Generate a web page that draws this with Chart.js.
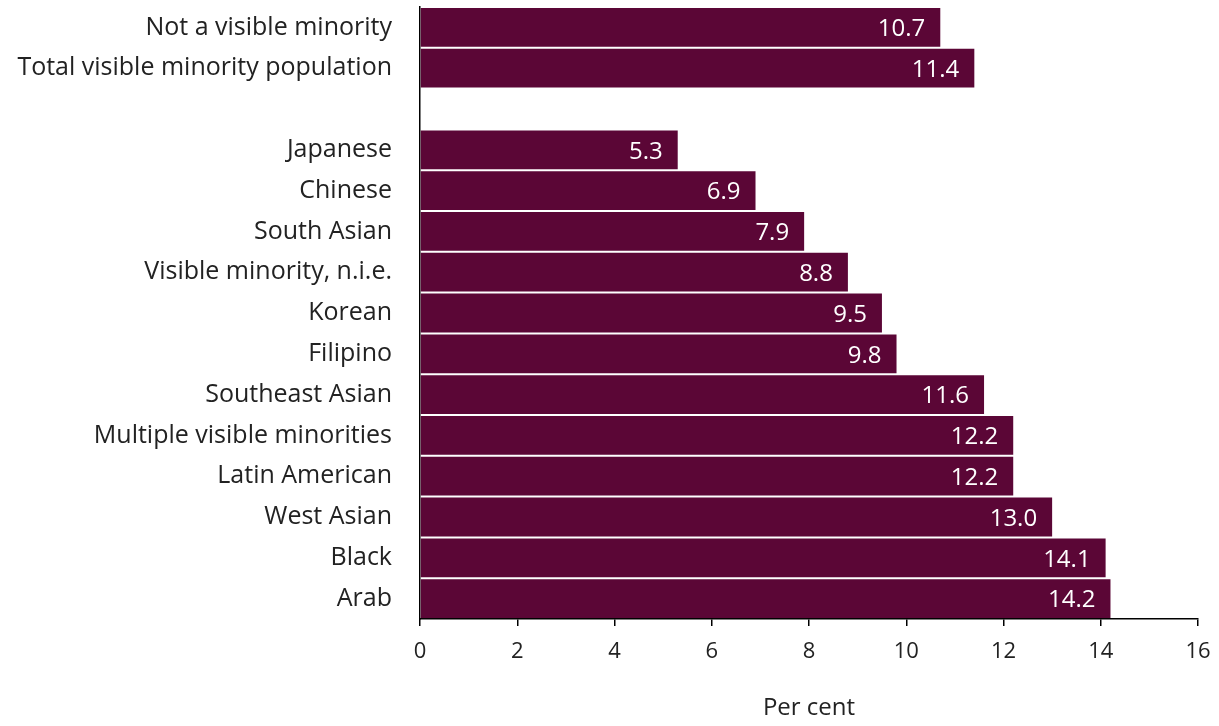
<!DOCTYPE html>
<html>
<head>
<meta charset="utf-8">
<script src="https://cdn.jsdelivr.net/npm/chart.js@4.4.1/dist/chart.umd.min.js"></script>
<style>
  html, body { margin: 0; padding: 0; background: #fff; }
  #wrap { width: 1219px; height: 726px; }
</style>
</head>
<body>
<div id="wrap"><canvas id="c" width="1219" height="726"></canvas></div>
<script>
// Categories (an empty label separates the totals from the groups)
const categories = [
  'Not a visible minority',
  'Total visible minority population',
  '',
  'Japanese',
  'Chinese',
  'South Asian',
  'Visible minority, n.i.e.',
  'Korean',
  'Filipino',
  'Southeast Asian',
  'Multiple visible minorities',
  'Latin American',
  'West Asian',
  'Black',
  'Arab'
];
const values = [10.7, 11.4, null, 5.3, 6.9, 7.9, 8.8, 9.5, 9.8, 11.6, 12.2, 12.2, 13.0, 14.1, 14.2];
const xTicks = [0, 2, 4, 6, 8, 10, 12, 14, 16];

const FONT = '"Open Sans", "Noto Sans", sans-serif';
const BAR = '#5b0636';

// Value labels drawn inside the end of each bar
const valueLabels = {
  id: 'valueLabels',
  afterDatasetsDraw(chart) {
    const ctx = chart.ctx;
    const meta = chart.getDatasetMeta(0);
    ctx.save();
    ctx.fillStyle = '#ffffff';
    ctx.font = '400 24px ' + FONT;
    ctx.textAlign = 'right';
    ctx.textBaseline = 'middle';
    meta.data.forEach((bar, i) => {
      const v = values[i];
      if (v === null) return;
      ctx.fillText(v.toFixed(1), bar.x - 15, bar.y + 2);
    });
    ctx.restore();
  }
};

new Chart(document.getElementById('c'), {
  type: 'bar',
  data: {
    labels: categories,
    datasets: [{
      data: values,
      backgroundColor: BAR,
      borderWidth: 0,
      categoryPercentage: 1.0,
      barPercentage: 0.95
    }]
  },
  options: {
    indexAxis: 'y',
    responsive: false,
    animation: false,
    layout: { padding: { top: 7, right: 0, left: 0, bottom: 0 } },
    plugins: {
      legend: { display: false },
      tooltip: { enabled: false }
    },
    scales: {
      x: {
        min: 0,
        max: 16,
        afterBuildTicks(scale) { scale.ticks = xTicks.map(v => ({ value: v })); },
        afterFit(scale) {
          scale.height = 107;
          scale.paddingLeft = 0;
          scale.paddingRight = 21;
        },
        grid: {
          drawOnChartArea: false,
          drawTicks: true,
          tickLength: 7,
          color: '#000',
          lineWidth: 1.5
        },
        border: { display: true, color: '#000', width: 1.5 },
        ticks: {
          color: '#222',
          font: { family: FONT, size: 22, weight: '400' },
          padding: 13
        },
        title: {
          display: true,
          text: 'Per cent',
          color: '#222',
          font: { family: FONT, size: 24, weight: '400' },
          padding: { top: 20, bottom: 3 }
        }
      },
      y: {
        afterFit(scale) {
          scale.width = 420;
          scale.paddingTop = 0;
          scale.paddingBottom = 0;
        },
        grid: { display: false, drawTicks: false },
        border: { display: true, color: '#000', width: 1.5 },
        ticks: {
          color: '#222',
          font: { family: FONT, size: 25, weight: '400' },
          padding: 28
        }
      }
    }
  },
  plugins: [valueLabels]
});
</script>
</body>
</html>
